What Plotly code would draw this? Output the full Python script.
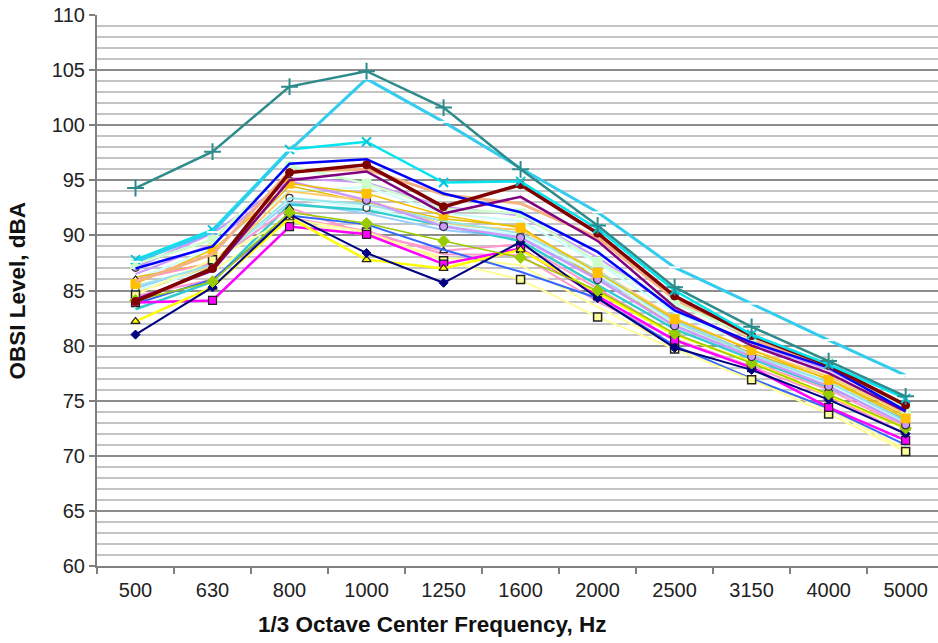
import plotly.graph_objects as go

freqs = ["500", "630", "800", "1000", "1250", "1600", "2000", "2500", "3150", "4000", "5000"]

# background / unmarked series
s_pale_yellow = [84.0, 86.8, 91.3, 90.0, 88.0, 87.3, 83.5, 80.0, 77.0, 74.2, 70.6]
s_light_blue = [85.2, 87.4, 93.0, 92.0, 90.5, 89.8, 86.2, 82.3, 79.3, 76.6, 73.3]
s_pale_cyan = [86.0, 88.8, 94.0, 94.4, 92.0, 91.3, 87.5, 83.0, 80.0, 77.5, 74.0]
s_pink = [84.5, 86.0, 91.6, 90.4, 88.3, 88.2, 84.0, 80.6, 78.1, 75.4, 72.0]
s_gold = [86.2, 87.5, 94.5, 93.0, 91.5, 90.8, 86.0, 82.0, 79.3, 77.0, 73.6]
s_periwinkle = [86.5, 89.2, 95.2, 94.8, 92.6, 91.8, 88.0, 83.4, 80.2, 77.8, 74.3]
s_light_orange = [84.8, 87.2, 94.0, 93.2, 91.0, 90.5, 86.8, 82.5, 79.6, 77.2, 73.8]
s_med_teal = [83.3, 85.8, 92.8, 92.3, 90.9, 89.5, 85.5, 81.5, 78.8, 76.2, 73.2]
s_sky = [85.0, 87.0, 93.4, 92.5, 91.0, 90.0, 86.5, 82.0, 79.0, 76.5, 73.0]
s_peach = [85.8, 88.3, 95.8, 96.0, 93.7, 92.9, 89.8, 84.2, 80.6, 78.0, 74.6]
s_salmon = [86.0, 87.5, 92.5, 90.1, 88.6, 89.2, 85.2, 81.0, 78.5, 76.0, 72.6]
s_cornflower = [83.8, 86.0, 91.8, 91.0, 88.7, 86.7, 84.3, 80.0, 77.0, 74.3, 71.0]
s_purple = [84.2, 86.8, 95.0, 95.8, 92.0, 93.5, 89.5, 83.5, 80.0, 77.5, 74.0]

# marked series
s_pale_sq = [84.6, 87.8, 91.5, 90.3, 87.7, 86.0, 82.6, 79.7, 76.9, 73.8, 70.4]
s_magenta = [83.9, 84.1, 90.8, 90.1, 87.4, 88.8, 84.5, 80.5, 78.0, 74.4, 71.4]
s_yellow = [82.2, 85.3, 91.6, 87.8, 87.0, 88.7, 84.8, 81.0, 78.5, 75.5, 72.5]
s_navy = [81.0, 85.3, 91.9, 88.4, 85.7, 89.4, 84.3, 79.8, 77.8, 75.1, 72.0]
s_yellowgreen = [84.1, 85.8, 92.1, 91.1, 89.5, 88.0, 85.0, 81.1, 78.4, 75.6, 72.5]
s_open_circle = [85.4, 87.3, 93.4, 92.8, 91.3, 90.2, 86.8, 82.2, 79.2, 76.7, 73.1]
s_lavender = [87.1, 90.2, 94.9, 93.2, 90.8, 89.8, 86.0, 81.8, 79.0, 76.3, 72.8]
s_orange = [85.6, 88.7, 94.7, 93.8, 91.8, 90.7, 86.6, 82.4, 79.6, 76.9, 73.4]
s_pale_green = [87.4, 89.6, 96.3, 94.7, 92.4, 92.0, 87.6, 83.9, 80.8, 78.4, 74.3]
s_blue = [87.0, 89.0, 96.5, 96.9, 93.8, 92.1, 88.5, 83.2, 80.3, 78.0, 74.1]
s_darkred = [84.0, 87.0, 95.7, 96.4, 92.6, 94.6, 90.2, 84.5, 80.9, 78.2, 74.6]
s_cyan_x = [87.8, 90.5, 97.8, 98.5, 94.8, 94.9, 90.6, 85.0, 81.0, 78.3, 75.2]
s_lightcyan_dash = [87.6, 90.3, 97.7, 104.2, 100.3, 96.1, 92.1, 87.1, 83.8, 80.5, 77.3]
s_teal_plus = [94.3, 97.6, 103.5, 104.9, 101.6, 96.0, 90.9, 85.3, 81.7, 78.6, 75.4]

fig = go.Figure()


def add(vals, color, width=2, symbol=None, mfill=None, mline=None, msize=7, mlw=1):
    if symbol is None:
        fig.add_trace(go.Scatter(x=freqs, y=vals, mode="lines",
                                 line=dict(color=color, width=width)))
    else:
        fig.add_trace(go.Scatter(
            x=freqs, y=vals, mode="lines+markers",
            line=dict(color=color, width=width),
            marker=dict(symbol=symbol, size=msize,
                        color=mfill if mfill is not None else color,
                        line=dict(color=mline if mline is not None else color, width=mlw))))


add(s_pale_yellow, "#FFFF99")
add(s_light_blue, "#99CCFF")
add(s_pale_cyan, "#CCFFFF")
add(s_pink, "#FF99CC")
add(s_gold, "#E6B800", 1.5)
add(s_periwinkle, "#CC99FF")
add(s_light_orange, "#FFCC66")
add(s_med_teal, "#33CCCC", 2.5)
add(s_sky, "#CCFFFF", 2, "circle", "#FFFFFF", "#333333", 7, 1.2)
add(s_salmon, "#FF99CC", 2, "triangle-up", "#FFFFFF", "#222222", 7, 1.2)
add(s_cornflower, "#3366FF")
add(s_pale_sq, "#FFFF99", 2, "square", "#FFFF99", "#222222", 8, 1.5)
add(s_magenta, "#FF00FF", 2.5, "square", "#FF00FF", "#222222", 8, 1.2)
add(s_yellow, "#FFFF00", 2.5, "triangle-up", "#FFFF00", "#222222", 8, 1.2)
add(s_navy, "#000080", 2, "diamond", "#000080", "#000080", 7)
add(s_yellowgreen, "#99CC00", 1.5, "diamond", "#99CC00", "#99CC00", 9)
add(s_open_circle, "#99E6E6", 2)
add(s_lavender, "#CC99FF", 2.5, "circle", "#CC99FF", "#333333", 8, 1.2)
add(s_orange, "#F0C000", 1.5, "square", "#FFC000", "#FFC000", 9)
add(s_peach, "#F4B183", 3)
add(s_pale_green, "#CCFFCC", 2.5, "square", "#CCFFCC", "#CCFFCC", 9)
add(s_purple, "#800080", 2.5)
add(s_blue, "#0000FF", 2.5)
add(s_darkred, "#800000", 3.5, "circle", "#800000", "#800000", 8)
add(s_cyan_x, "#00E5EE", 2.5, "x-thin", None, "#00C8D8", 9, 2)
add(s_lightcyan_dash, "#33CCEE", 3, "line-ew", None, "#FFFFFF", 8, 2)
add(s_teal_plus, "#2E8B8B", 2.5, "cross-thin", None, "#2E8B8B", 12, 2)

axis_font = dict(family="Liberation Sans, Arial, sans-serif", size=20, color="#222222")
title_font = dict(family="Liberation Sans, Arial, sans-serif", size=22.5, color="#111111")

fig.update_layout(
    width=938, height=643,
    margin=dict(l=97, r=0, t=15, b=77),
    paper_bgcolor="white", plot_bgcolor="white",
    showlegend=False,
    font=axis_font,
    xaxis=dict(type="category", range=[-0.5, 10.42], tickson="boundaries",
               ticks="outside", ticklen=6, tickcolor="#808080", tickwidth=1.5,
               ticklabelstandoff=5,
               showline=True, linecolor="#808080", linewidth=2,
               showgrid=False, zeroline=False, tickfont=axis_font),
    yaxis=dict(range=[60, 110], dtick=5, tick0=60,
               ticks="outside", ticklen=6, tickcolor="#808080", tickwidth=1.5,
               showline=True, linecolor="#808080", linewidth=2,
               showgrid=True, gridcolor="#8C8C8C", gridwidth=1.5,
               zeroline=False, tickfont=axis_font,
               minor=dict(dtick=1, showgrid=True, gridcolor="#C4C4C4", gridwidth=2)),
    annotations=[
        dict(text="<b>OBSI Level, dBA</b>", xref="paper", yref="paper",
             x=-0.094, y=0.5, xanchor="center", yanchor="middle", textangle=-90,
             showarrow=False, font=title_font),
        dict(text="<b>1/3 Octave Center Frequency, Hz</b>", xref="paper", yref="paper",
             x=0.398, y=-0.107, xanchor="center", yanchor="middle",
             showarrow=False, font=title_font),
    ],
)

fig.write_html("out.html")
